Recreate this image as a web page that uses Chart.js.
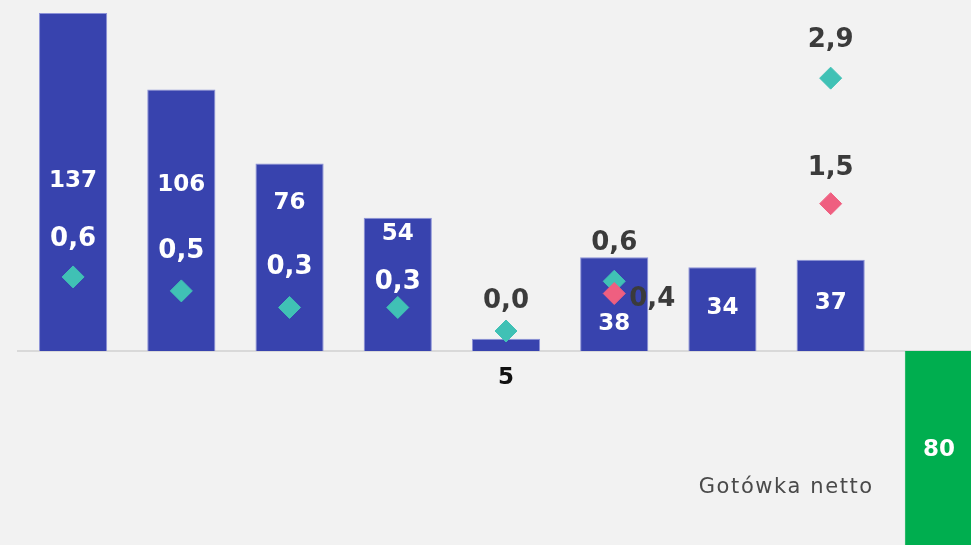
<!DOCTYPE html>
<html lang="pl">
<head>
    <meta charset="UTF-8">
    <title>Gotówka netto</title>
    <script src="https://cdn.jsdelivr.net/npm/chart.js@4/dist/chart.umd.min.js"></script>
    <style>
        html, body { margin: 0; padding: 0; background: #f2f2f2; overflow: hidden; }
        #wrap { position: relative; width: 1000px; height: 545px; }
    </style>
</head>
<body>
    <div id="wrap"><canvas id="chart"></canvas></div>

    <script>
        // data
        const categories = ['1', '2', '3', '4', '5', '6', '7', '8', 'Gotówka netto'];
        const barValues = [137, 106, 76, 54, 5, 38, 34, 37, -80];
        const tealValues = [0.62, 0.46, 0.27, 0.27, 0.0, 0.57, null, 2.9, null];
        const pinkValues = [null, null, null, null, null, 0.43, null, 1.46, null];

        const BLUE = '#3843ae';
        const GREEN = '#00ae4f';
        const TEAL = '#40c1b5';
        const PINK = '#ef5f80';
        const DARK = '#3b3b3b';

        // label tweaks (px)
        const barLabelDy = [-1, -35, -54, -50, 33, 20, -1, -2, 0];
        const barLabelColor = ['#fff', '#fff', '#fff', '#fff', '#111', '#fff', '#fff', '#fff', '#fff'];
        const tealLabelOff = [[0, -38], [0, -40], [0, -40], [0, -25], [0, -30], [0, -38], null, [0, -38], null];
        const tealLabelColor = ['#fff', '#fff', '#fff', '#fff', DARK, DARK, DARK, DARK, DARK];
        const pinkLabelOff = [null, null, null, null, null, [38, 6], null, [0, -35], null];

        const fmt = v => v.toFixed(1).replace('.', ',');

        const labelPlugin = {
            id: 'labels',
            beforeDatasetsDraw(chart) {
                const { ctx, chartArea, scales } = chart;
                const y0 = scales.y.getPixelForValue(0);
                ctx.save();
                ctx.strokeStyle = '#d9d9d9';
                ctx.lineWidth = 2;
                ctx.beginPath();
                ctx.moveTo(chartArea.left - 2, y0);
                ctx.lineTo(chartArea.right, y0);
                ctx.stroke();
                ctx.restore();
            },
            afterDatasetsDraw(chart) {
                const { ctx, chartArea } = chart;
                ctx.save();
                ctx.textAlign = 'center';
                ctx.textBaseline = 'middle';

                // bar values
                ctx.font = 'bold 23px "DejaVu Sans"';
                chart.getDatasetMeta(2).data.forEach((bar, i) => {
                    const mid = (bar.y + bar.base) / 2;
                    ctx.fillStyle = barLabelColor[i];
                    ctx.fillText(String(Math.abs(barValues[i])), bar.x, mid + barLabelDy[i]);
                });

                // diamond values
                ctx.font = 'bold 26px "DejaVu Sans"';
                chart.getDatasetMeta(1).data.forEach((pt, i) => {
                    if (tealValues[i] === null) return;
                    const [dx, dy] = tealLabelOff[i];
                    ctx.fillStyle = tealLabelColor[i];
                    ctx.fillText(fmt(tealValues[i]), pt.x + dx, pt.y + dy);
                });
                chart.getDatasetMeta(0).data.forEach((pt, i) => {
                    if (pinkValues[i] === null) return;
                    const [dx, dy] = pinkLabelOff[i];
                    ctx.fillStyle = DARK;
                    ctx.fillText(fmt(pinkValues[i]), pt.x + dx, pt.y + dy);
                });

                // caption next to the green bar
                const last = chart.getDatasetMeta(2).data[8];
                ctx.font = '21px "DejaVu Sans"';
                if ('letterSpacing' in ctx) ctx.letterSpacing = '1.6px';
                ctx.textAlign = 'right';
                ctx.fillStyle = '#4a4a4a';
                ctx.fillText(categories[8], last.x - last.width / 2 - 31, chartArea.bottom - 57);
                ctx.restore();
            }
        };

        new Chart(document.getElementById('chart'), {
            data: {
                labels: categories,
                datasets: [
                    {
                        type: 'line',
                        data: pinkValues,
                        yAxisID: 'y2',
                        showLine: false,
                        pointStyle: 'rectRot',
                        pointRadius: 11,
                        backgroundColor: PINK,
                        borderColor: PINK,
                        borderWidth: 1
                    },
                    {
                        type: 'line',
                        data: tealValues,
                        yAxisID: 'y2',
                        showLine: false,
                        pointStyle: 'rectRot',
                        pointRadius: 11,
                        backgroundColor: TEAL,
                        borderColor: TEAL,
                        borderWidth: 1
                    },
                    {
                        type: 'bar',
                        data: barValues,
                        yAxisID: 'y',
                        backgroundColor: barValues.map(v => v < 0 ? GREEN : BLUE),
                        borderColor: barValues.map(v => v < 0 ? GREEN : '#8c92d8'),
                        borderWidth: 1,
                        barPercentage: 0.63,
                        categoryPercentage: 1
                    }
                ]
            },
            options: {
                responsive: true,
                maintainAspectRatio: false,
                devicePixelRatio: 1,
                animation: false,
                layout: { autoPadding: false, padding: { left: 19, right: 7, top: 0, bottom: 0 } },
                plugins: { legend: { display: false }, tooltip: { enabled: false } },
                scales: {
                    x: { display: false, offset: true },
                    y: { display: false, min: -78.6, max: 142.3 },
                    y2: { display: false, min: -2.454, max: 3.796 }
                }
            },
            plugins: [labelPlugin]
        });
    </script>
</body>
</html>
